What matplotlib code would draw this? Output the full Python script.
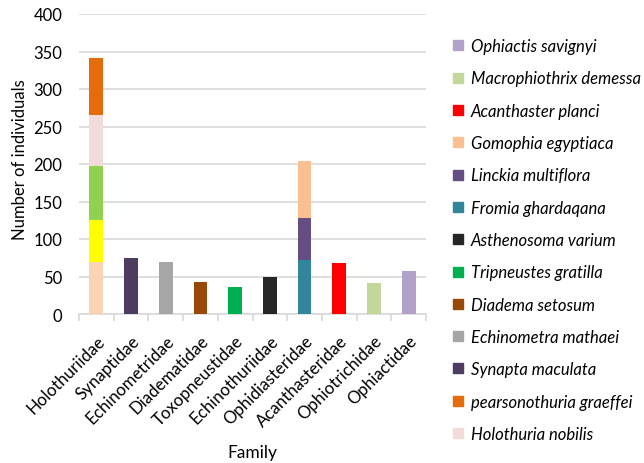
import matplotlib
matplotlib.use("Agg")
import matplotlib.pyplot as plt
from matplotlib.lines import Line2D
import numpy as np

plt.rcParams['font.family'] = ['Lato', 'DejaVu Sans']

families = ["Holothuriidae", "Synaptidae", "Echinometridae", "Diadematidae",
            "Toxopneustidae", "Echinothuriidae", "Ophidiasteridae",
            "Acanthasteridae", "Ophiotrichidae", "Ophiactidae"]

# species stacked from bottom to top, with their family and count
species = ["", "", "", "Holothuria nobilis", "pearsonothuria graeffei",
           "Synapta maculata", "Echinometra mathaei", "Diadema setosum",
           "Tripneustes gratilla", "Asthenosoma varium", "Fromia ghardaqana",
           "Linckia multiflora", "Gomophia egyptiaca", "Acanthaster planci",
           "Macrophiothrix demessa", "Ophiactis savignyi"]
species_family = ["Holothuriidae", "Holothuriidae", "Holothuriidae",
                  "Holothuriidae", "Holothuriidae", "Synaptidae",
                  "Echinometridae", "Diadematidae", "Toxopneustidae",
                  "Echinothuriidae", "Ophidiasteridae", "Ophidiasteridae",
                  "Ophidiasteridae", "Acanthasteridae", "Ophiotrichidae",
                  "Ophiactidae"]
counts = [70, 55, 72, 68, 77, 75, 70, 43, 36, 49, 72, 56, 76, 68, 42, 57]
colors = ["#FBD4B4", "#FFFF00", "#92D050", "#F2DCDB", "#E46C0A", "#4E3B62",
          "#A6A6A6", "#984807", "#00B050", "#262626", "#31869B", "#654E84",
          "#FAC090", "#FF0000", "#C4D79B", "#B1A0C7"]

fig = plt.figure(figsize=(6.44, 4.64), dpi=100)
ax = fig.add_axes([79 / 644, 1 - 315 / 464, 347 / 644, 300 / 464])

x = np.arange(len(families))
bottoms = np.zeros(len(families))
for name, fam, val, col in zip(species, species_family, counts, colors):
    vals = np.array([val if f == fam else 0 for f in families], dtype=float)
    ax.bar(x, vals, width=0.4, bottom=bottoms, color=col, zorder=3)
    bottoms += vals

ax.set_xlim(-0.5, len(families) - 0.5)
ax.set_ylim(0, 400)
ax.set_yticks(np.arange(0, 401, 50))
ax.grid(axis='y', color='#D9D9D9', linewidth=1.2, zorder=0)
for s in ['top', 'right', 'left']:
    ax.spines[s].set_visible(False)
ax.spines['bottom'].set_color('#D9D9D9')
ax.spines['bottom'].set_linewidth(1.2)
ax.tick_params(axis='y', length=0, labelsize=12, pad=12, labelcolor='#000000')

ax.set_xticks(x)
ax.set_xticklabels(families, rotation=45, ha='right', rotation_mode='anchor',
                   fontsize=12.2)
ax.tick_params(axis='x', which='major', length=0, pad=13)
ax.set_xticks(np.arange(-0.5, len(families), 1.0), minor=True)
ax.tick_params(axis='x', which='minor', length=5, color='#D9D9D9', width=1.2)

# axis titles
fig.text(20.5 / 644, 1 - 160 / 464, "Number of individuals", rotation=90,
         ha='center', va='center', fontsize=12)
fig.text(252 / 644, 1 - 453 / 464, "Family", ha='center', va='center',
         fontsize=12.5)

# legend lists species top to bottom in reverse stacking order
handles, labels = [], []
for name, col in zip(species[::-1], colors[::-1]):
    if not name:
        continue
    handles.append(Line2D([], [], marker='s', linestyle='none',
                          markersize=6.5, markerfacecolor=col,
                          markeredgecolor=col))
    labels.append(name)
leg = fig.legend(handles, labels, loc='upper left',
                 bbox_to_anchor=(451 / 644, 1 - 39 / 464),
                 frameon=False, prop={'style': 'italic', 'size': 12},
                 handlelength=0.8, handletextpad=0.4, labelspacing=0.98,
                 borderaxespad=0, borderpad=0)

fig.savefig("out.png", dpi=100)
